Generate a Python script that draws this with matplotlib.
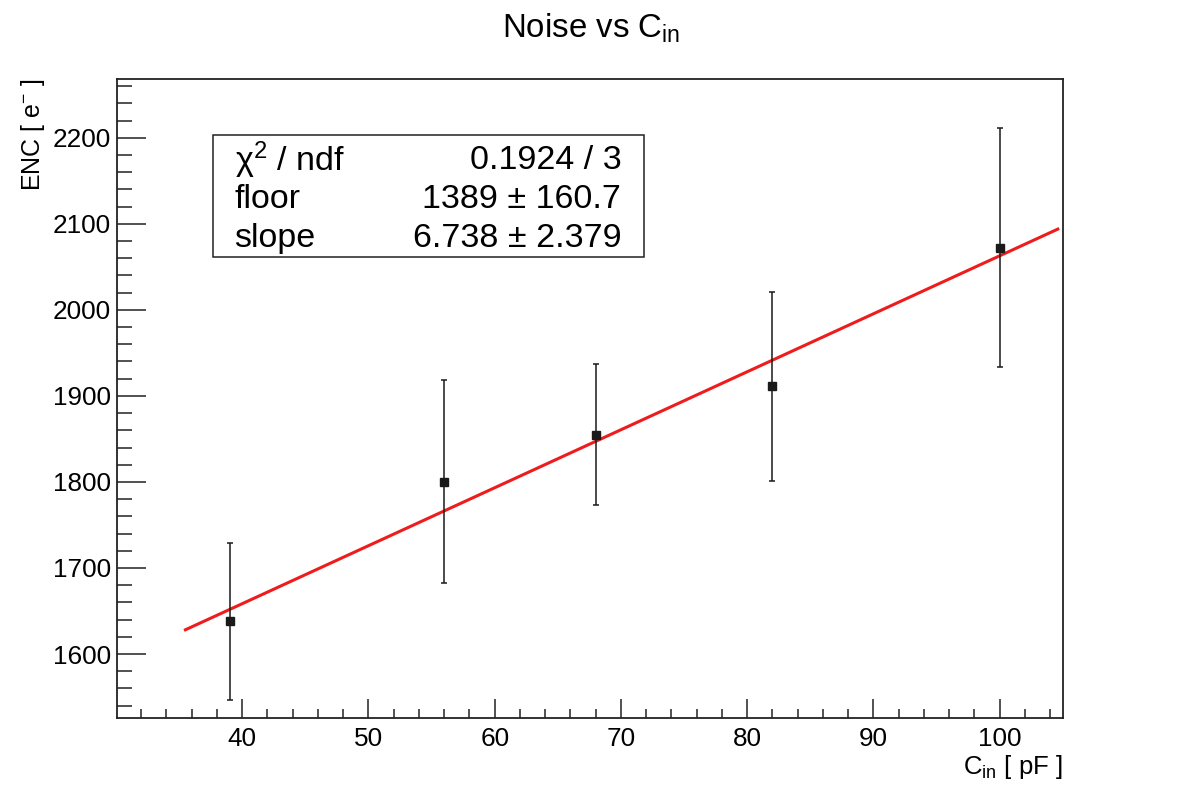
import matplotlib
matplotlib.use('Agg')
import matplotlib.pyplot as plt
from matplotlib.ticker import MultipleLocator
import numpy as np

plt.rcParams['font.family'] = ['Liberation Sans', 'DejaVu Sans']
plt.rcParams['mathtext.default'] = 'regular'

# measurements
cin = [39, 56, 68, 82, 100]
enc = [1638, 1800, 1855, 1911, 2072]
enc_err = [91, 118, 82, 110, 139]

# fit result
fit_floor = 1389
fit_slope = 6.738
fit_xmin, fit_xmax = 35.5, 104.6
stat_names = [r'χ$^{2}$ / ndf', 'floor', 'slope']
stat_values = ['0.1924 / 3', '1389 ± 160.7', '6.738 ± 2.379']

fig = plt.figure(figsize=(11.82, 7.98), dpi=100)
ax = fig.add_axes([0.0992, 0.1006, 0.8, 0.8008])

xf = np.linspace(fit_xmin, fit_xmax, 2)
ax.plot(xf, fit_floor + fit_slope * xf, color='#ee1c1c', lw=2.2, zorder=2)
ax.errorbar(cin, enc, yerr=enc_err, fmt='s', color='#1a1a1a', ms=5.3,
            elinewidth=1.1, capsize=2.5, capthick=1.1, zorder=3)

ax.set_xlim(30.1, 105.0)
ax.set_ylim(1526, 2268.6)
ax.xaxis.set_major_locator(MultipleLocator(10))
ax.xaxis.set_minor_locator(MultipleLocator(2))
ax.yaxis.set_major_locator(MultipleLocator(100))
ax.yaxis.set_minor_locator(MultipleLocator(20))
ax.tick_params(axis='both', which='both', direction='in', top=False, right=False,
               labelsize=18.8, width=1.1, color='#222222')
ax.tick_params(axis='y', which='major', length=21, pad=4.5)
ax.tick_params(axis='y', which='minor', length=10.8)
ax.tick_params(axis='x', which='major', length=13.4, pad=7)
ax.tick_params(axis='x', which='minor', length=6.7)
for s in ax.spines.values():
    s.set_linewidth(1.3)
    s.set_color('#222222')

ax.set_xlabel(r'C$_{in}$ [ pF ]', fontsize=18.5, loc='right', labelpad=1)
ax.set_ylabel(r'ENC [ e$^{-}$ ]', fontsize=18, loc='top', labelpad=4)
fig.suptitle(r'Noise vs C$_{in}$', fontsize=23.8, x=0.5, y=0.985, va='top')

# stats box
box = plt.Rectangle((0.1015, 0.7214), 0.4555, 0.1906, transform=ax.transAxes,
                    fill=False, lw=1.1, ec='#222222', zorder=4)
ax.add_patch(box)
row_y = [0.872, 0.811, 0.750]
for name, val, y in zip(stat_names, stat_values, row_y):
    ax.text(0.124, y, name, transform=ax.transAxes, fontsize=24.5, va='center', ha='left')
    ax.text(0.533, y, val, transform=ax.transAxes, fontsize=24.5, va='center', ha='right')

fig.savefig('out.png', dpi=100)
